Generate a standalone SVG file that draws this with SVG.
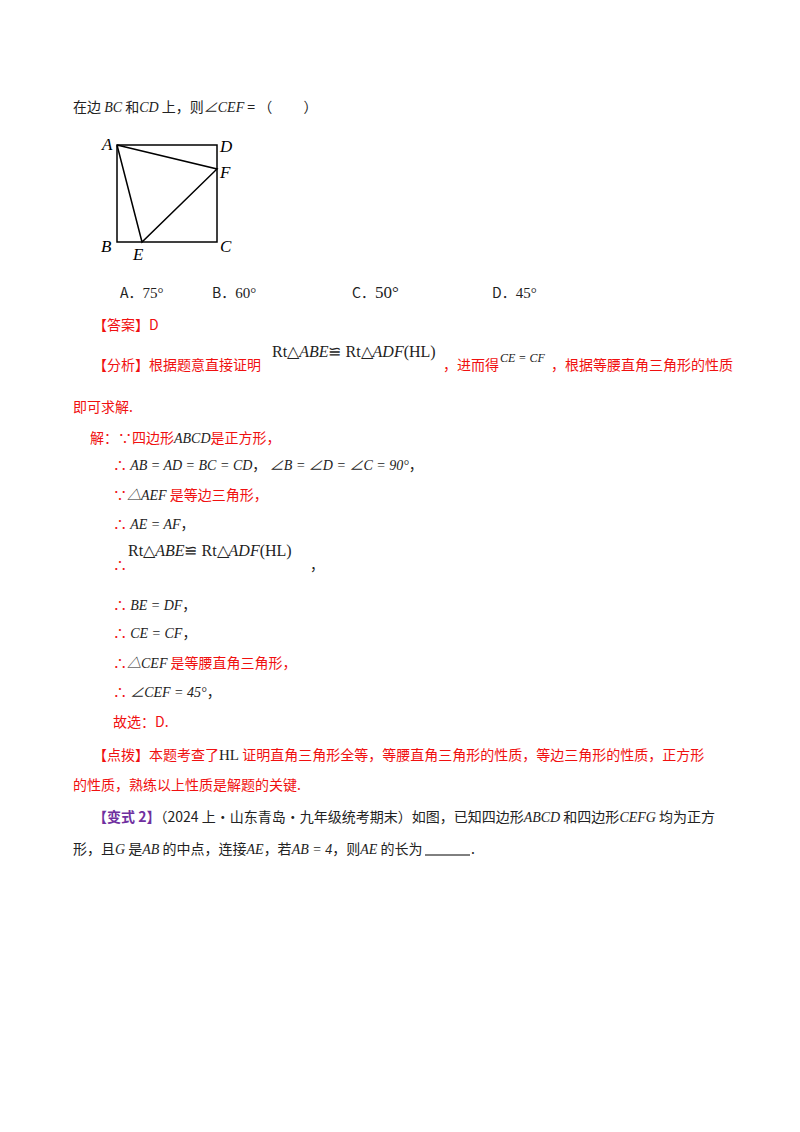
<svg xmlns="http://www.w3.org/2000/svg" width="800" height="1132" viewBox="0 0 800 1132">
<style>
text{font-family:"Noto Sans CJK SC","Noto Sans",sans-serif;font-size:14px;fill:#222}
.m{font-family:"Liberation Serif","Noto Sans CJK SC",serif;font-style:italic;font-size:14px}
.r{font-family:"Liberation Serif",serif;font-size:15px}
.big{font-family:"Liberation Serif",serif;font-size:16px;fill:#222}
.red{fill:#f01010}
.pur{fill:#7030a0;font-weight:bold}
.lbl{font-family:"Liberation Serif",serif;font-style:italic;font-size:17px;fill:#000}
</style>
<rect width="800" height="1132" fill="#fff"/>
<text x="73" y="112" xml:space="preserve">在边 <tspan class="m">BC</tspan> 和<tspan class="m">CD</tspan> 上，则<tspan class="m">∠CEF</tspan> = （          ）</text>
<g id="figure" fill="none" stroke="#000" stroke-width="1.5">
<rect x="117" y="145" width="100" height="97"/>
<polyline points="117,145 217,169 142,242 117,145"/>
</g>
<text class="lbl" x="102" y="150">A</text>
<text class="lbl" x="220" y="152">D</text>
<text class="lbl" x="220" y="178">F</text>
<text class="lbl" x="101" y="252">B</text>
<text class="lbl" x="133" y="260">E</text>
<text class="lbl" x="220" y="252">C</text>
<text x="120" y="298">A．<tspan class="r">75°</tspan></text>
<text x="212" y="298">B．<tspan class="r">60°</tspan></text>
<text x="352" y="298">C．<tspan class="r" style="font-size:17px">50°</tspan></text>
<text x="492" y="298">D．<tspan class="r">45°</tspan></text>
<text class="red" x="93" y="330">【答案】D</text>
<text class="red" x="93" y="370">【分析】根据题意直接证明</text>
<text class="big" x="272" y="357">Rt△<tspan font-style="italic">ABE</tspan>≌ Rt△<tspan font-style="italic">ADF</tspan>(HL)</text>
<text class="red" x="443" y="370">，进而得</text>
<text class="m" x="500" y="362" style="font-size:12px">CE = CF</text>
<text class="red" x="551" y="370">，根据等腰直角三角形的性质</text>
<text class="red" x="73" y="412">即可求解.</text>
<text class="red" x="90" y="443">解：∵四边形<tspan class="m" style="fill:#222">ABCD</tspan>是正方形，</text>
<text class="red" x="113" y="470">∴ <tspan class="m" style="fill:#222">AB = AD = BC = CD</tspan><tspan style="fill:#222">，</tspan><tspan class="m" style="fill:#222"> ∠B = ∠D = ∠C = 90°</tspan><tspan style="fill:#222">，</tspan></text>
<text class="red" x="113" y="500">∵<tspan class="m" style="fill:#222">△AEF</tspan> 是等边三角形，</text>
<text class="red" x="113" y="529">∴ <tspan class="m" style="fill:#222">AE = AF</tspan><tspan style="fill:#222">，</tspan></text>
<text class="red" x="113" y="570">∴</text>
<text class="big" x="128" y="556">Rt△<tspan font-style="italic">ABE</tspan>≌ Rt△<tspan font-style="italic">ADF</tspan>(HL)</text>
<text x="310" y="570">，</text>
<text class="red" x="113" y="610">∴ <tspan class="m" style="fill:#222">BE = DF</tspan><tspan style="fill:#222">，</tspan></text>
<text class="red" x="113" y="638">∴ <tspan class="m" style="fill:#222">CE = CF</tspan><tspan style="fill:#222">，</tspan></text>
<text class="red" x="113" y="668">∴<tspan class="m" style="fill:#222">△CEF</tspan> 是等腰直角三角形，</text>
<text class="red" x="113" y="697">∴ <tspan class="m" style="fill:#222">∠CEF = 45°</tspan><tspan style="fill:#222">，</tspan></text>
<text class="red" x="113" y="727">故选：D.</text>
<text class="red" x="93" y="760">【点拨】本题考查了<tspan class="r" style="fill:#222">HL</tspan> 证明直角三角形全等，等腰直角三角形的性质，等边三角形的性质，正方形</text>
<text class="red" x="73" y="790">的性质，熟练以上性质是解题的关键.</text>
<text x="93" y="822"><tspan class="pur">【变式 2】</tspan>（2024 上·山东青岛·九年级统考期末）如图，已知四边形<tspan class="m">ABCD</tspan> 和四边形<tspan class="m">CEFG</tspan> 均为正方</text>
<text x="73" y="854">形，且<tspan class="m">G</tspan> 是<tspan class="m">AB</tspan> 的中点，连接<tspan class="m">AE</tspan>，若<tspan class="m">AB = 4</tspan>，则<tspan class="m">AE</tspan> 的长为</text>
<line x1="425" y1="855" x2="470" y2="855" stroke="#000" stroke-width="1"/>
<text x="471" y="854">.</text>
</svg>
